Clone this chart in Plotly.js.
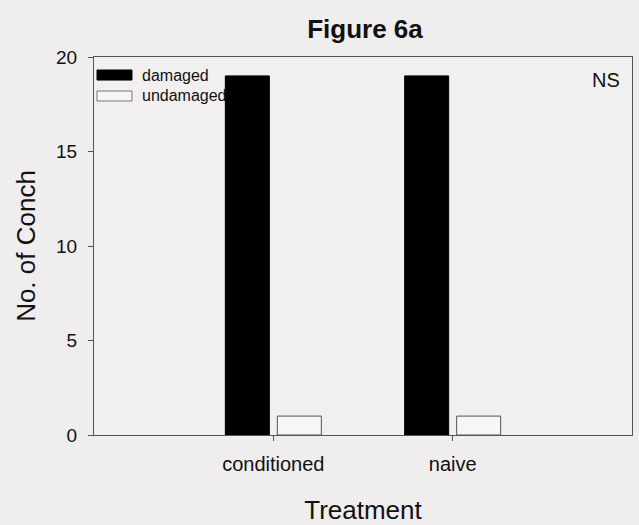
<!DOCTYPE html>
<html>
<head>
<meta charset="utf-8">
<script src="https://cdn.plot.ly/plotly-3.0.1.min.js"></script>
<style>html,body{margin:0;padding:0;background:#efeded;}</style>
</head>
<body>
<div id="chart" style="width:639px;height:525px;"></div>
<script>
const categories = ["conditioned", "naive"];
const damaged = [19, 19];
const undamaged = [1, 1];
const yTicks = [0, 5, 10, 15, 20];
const seriesNames = ["damaged", "undamaged"];

const font = "Liberation Sans, Arial, sans-serif";

const traces = [
  {type: "bar", name: seriesNames[0], x: categories, y: damaged, showlegend: false,
   marker: {color: "#000000", line: {color: "#000000", width: 1}}},
  {type: "bar", name: seriesNames[1], x: categories, y: undamaged, showlegend: false,
   marker: {color: "#f7f6f6", line: {color: "#555555", width: 1}}}
];

// manual legend (wide rectangular swatches as in the reference)
const legendShapes = [
  {type: "rect", xref: "paper", yref: "paper", x0: 0.0056, x1: 0.0706, y0: 0.939, y1: 0.9656,
   fillcolor: "#000000", line: {color: "#000000", width: 1}},
  {type: "rect", xref: "paper", yref: "paper", x0: 0.0056, x1: 0.0706, y0: 0.8836, y1: 0.910,
   fillcolor: "#f7f6f6", line: {color: "#777777", width: 1}}
];
const legendLabels = [
  {text: seriesNames[0], xref: "paper", yref: "paper", x: 0.085, y: 0.952, xanchor: "left", yanchor: "middle",
   showarrow: false, font: {size: 16, family: font, color: "#111"}},
  {text: seriesNames[1], xref: "paper", yref: "paper", x: 0.085, y: 0.897, xanchor: "left", yanchor: "middle",
   showarrow: false, font: {size: 16, family: font, color: "#111"}}
];

const layout = {
  width: 639, height: 525,
  margin: {l: 94, r: 7, t: 57, b: 90},
  paper_bgcolor: "#efeded",
  plot_bgcolor: "#f1efef",
  font: {family: font, color: "#111111"},
  title: {text: "<b>Figure 6a</b>", x: 365 / 639, xref: "container", xanchor: "center",
          y: 1 - 29 / 525, yref: "container", yanchor: "middle",
          font: {size: 26, family: font, color: "#111"}},
  barmode: "group",
  bargap: 0.42,
  bargroupgap: 0.154,
  showlegend: false,
  xaxis: {
    type: "category", range: [-1, 2], automargin: false,
    showline: true, linecolor: "#555", linewidth: 1, mirror: true,
    ticks: "outside", ticklen: 5, tickcolor: "#555", ticklabelstandoff: 6,
    tickfont: {size: 20, family: font}, showgrid: false, zeroline: false,
    title: {text: "Treatment", font: {size: 26, family: font}, standoff: 26}
  },
  yaxis: {
    range: [0, 20], tickvals: yTicks, automargin: false,
    showline: true, linecolor: "#555", linewidth: 1, mirror: true,
    ticks: "outside", ticklen: 5, tickcolor: "#555", ticklabelstandoff: 7,
    tickfont: {size: 19, family: font}, showgrid: false, zeroline: false,
    title: {text: "No. of Conch", font: {size: 26, family: font}, standoff: 12}
  },
  shapes: legendShapes,
  annotations: legendLabels.concat([
    {text: "NS", xref: "paper", yref: "paper", x: 0.981, y: 0.938, xanchor: "right", yanchor: "middle",
     showarrow: false, font: {size: 20, family: font, color: "#111"}}
  ])
};

Plotly.newPlot("chart", traces, layout, {staticPlot: true, displayModeBar: false});
</script>
</body>
</html>
